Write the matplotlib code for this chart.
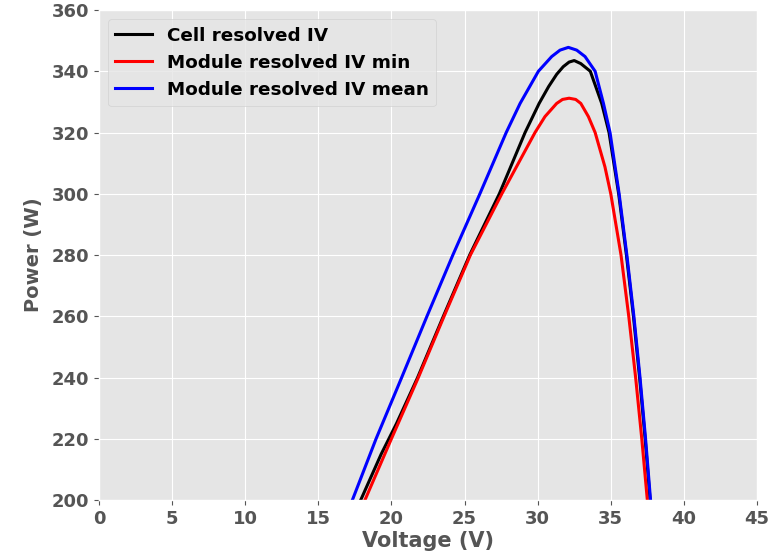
import matplotlib
matplotlib.use('Agg')
import matplotlib.pyplot as plt

# Curvas P-V (tensão em V, potência em W)
cell_v = [17.9, 19.3, 20.35, 21.79, 23.55, 25.35, 27.38, 29.14, 30.1, 30.75, 31.3, 31.75, 32.15, 32.5,
          32.95, 33.6, 34.38, 34.88, 35.54, 36.07, 36.55, 36.97, 37.35, 37.69]
cell_p = [200, 215, 225, 240, 260, 280, 300, 320, 329.5, 335, 339, 341.5, 343, 343.5,
          342.5, 340, 329.5, 320, 300, 280, 260, 240, 220, 200]

min_v = [18.19, 20.0, 21.84, 23.6, 25.4, 27.55, 29.82, 30.5, 31.3, 31.7, 32.15, 32.6,
         32.95, 33.47, 33.93, 34.6, 35.0, 35.7, 36.23, 36.7, 37.12, 37.5]
min_p = [200, 220, 240, 260, 280, 300, 320, 325.2, 329.5, 330.8, 331.2, 330.8,
         329.5, 325.2, 320, 308.8, 300, 280, 260, 240, 220, 200]

mean_v = [17.33, 18.95, 20.7, 22.43, 24.2, 26.05, 27.85, 28.8, 30.05, 30.96, 31.53, 32.1,
          32.67, 33.24, 33.93, 34.5, 34.95, 35.57, 36.1, 36.58, 37.0, 37.38, 37.72]
mean_p = [200, 220, 240, 260, 280, 300, 320, 329.5, 340, 344.8, 346.9, 347.8,
          346.9, 344.8, 340, 329.5, 320, 300, 280, 260, 240, 220, 200]

plt.style.use('ggplot')
plt.rcParams['font.weight'] = 'bold'
plt.rcParams['axes.labelweight'] = 'bold'

fig = plt.figure(figsize=(7.69, 5.59), dpi=100)
ax = fig.add_axes([0.1287, 0.1055, 0.8557, 0.8766])

ax.plot(cell_v, cell_p, color='black', lw=2.2, solid_joinstyle='round', label='Cell resolved IV')
ax.plot(min_v, min_p, color='red', lw=2.2, solid_joinstyle='round', label='Module resolved IV min')
ax.plot(mean_v, mean_p, color='blue', lw=2.2, solid_joinstyle='round', label='Module resolved IV mean')

ax.set_xlim(0, 45)
ax.set_ylim(200, 360)
ax.set_xticks(range(0, 46, 5))
ax.set_yticks(range(200, 361, 20))
ax.tick_params(labelsize=13)
for lab in ax.get_xticklabels() + ax.get_yticklabels():
    lab.set_fontweight('bold')

ax.set_xlabel('Voltage (V)', fontsize=15, color='#555555', labelpad=2)
ax.set_ylabel('Power (W)', fontsize=14, color='#555555', labelpad=6)
ax.legend(loc='upper left', prop={'weight': 'bold', 'size': 13.2})

fig.savefig('out.png', dpi=100)
